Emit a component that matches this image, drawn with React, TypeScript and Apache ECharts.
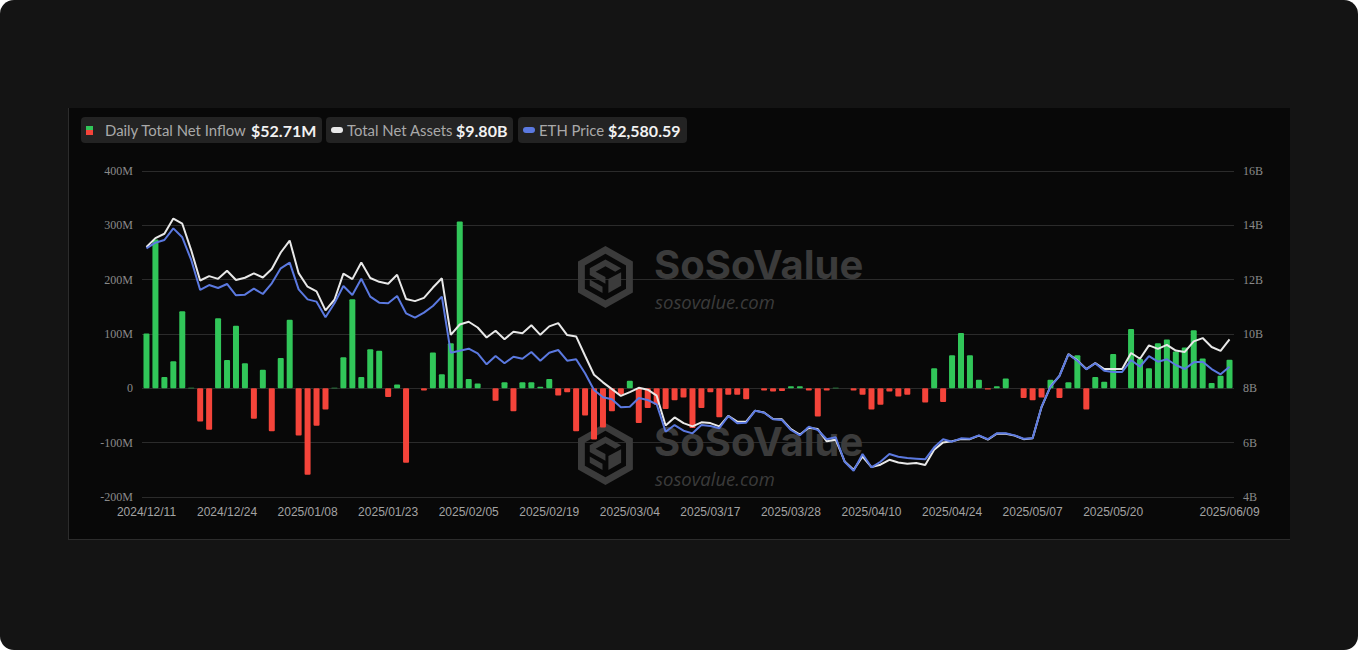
import React, { useEffect, useRef } from "react";
import * as echarts from "echarts";

const dates: string[] = [
  "2024/12/11","2024/12/12","2024/12/13","2024/12/16","2024/12/17","2024/12/18","2024/12/19","2024/12/20","2024/12/23","2024/12/24","2024/12/26","2024/12/27","2024/12/30","2024/12/31",
  "2025/01/02","2025/01/03","2025/01/06","2025/01/07","2025/01/08","2025/01/10","2025/01/13","2025/01/14","2025/01/15","2025/01/16","2025/01/17","2025/01/21","2025/01/22","2025/01/23","2025/01/24","2025/01/27","2025/01/28","2025/01/29","2025/01/30","2025/01/31",
  "2025/02/03","2025/02/04","2025/02/05","2025/02/06","2025/02/07","2025/02/10","2025/02/11","2025/02/12","2025/02/13","2025/02/14","2025/02/18","2025/02/19","2025/02/20","2025/02/21","2025/02/24","2025/02/25","2025/02/26","2025/02/27","2025/02/28",
  "2025/03/03","2025/03/04","2025/03/05","2025/03/06","2025/03/07","2025/03/10","2025/03/11","2025/03/12","2025/03/13","2025/03/14","2025/03/17","2025/03/18","2025/03/19","2025/03/20","2025/03/21","2025/03/24","2025/03/25","2025/03/26","2025/03/27","2025/03/28","2025/03/31",
  "2025/04/01","2025/04/02","2025/04/03","2025/04/04","2025/04/07","2025/04/08","2025/04/09","2025/04/10","2025/04/11","2025/04/14","2025/04/15","2025/04/16","2025/04/17","2025/04/21","2025/04/22","2025/04/23","2025/04/24","2025/04/25","2025/04/28","2025/04/29","2025/04/30",
  "2025/05/01","2025/05/02","2025/05/05","2025/05/06","2025/05/07","2025/05/08","2025/05/09","2025/05/12","2025/05/13","2025/05/14","2025/05/15","2025/05/16","2025/05/19","2025/05/20","2025/05/21","2025/05/22","2025/05/23","2025/05/27","2025/05/28","2025/05/29","2025/05/30",
  "2025/06/02","2025/06/03","2025/06/04","2025/06/05","2025/06/06","2025/06/09",
];

// Daily total net inflow, millions USD
const netInflow: number[] = [
  101, 274, 21, 50, 142, 1, -61, -76, 129, 52, 115, 46, -56, 34,
  -79, 56, 126, -87, -159, -69, -39, 1, 57, 164, 21, 72, 69, -16, 7, -137, 0, -4, 66, 26,
  83, 307, 17, 9, 0, -23, 11, -42, 11, 11, 3, 17, -13, -7, -79, -50, -94, -72, -42,
  -12, 14, -64, -36, -30, -38, -22, -17, -73, -36, -7, -53, -12, -12, -20, 0, -4, -6, -5, 4, 4,
  -4, -52, -4, 1, 0, -4, -12, -39, -30, -6, -15, -12, 0, -26, 37, -25, 61, 102, 61, 16, -2,
  4, 18, 0, -18, -22, -17, 16, -18, 11, 61, -39, 21, 12, 63, 0, 109, 54, 37, 83, 90, 68,
  75, 107, 55, 10, 23, 52.71,
];

// Total net assets, billions USD
const totalNetAssets: number[] = [
  13.2, 13.53, 13.69, 14.25, 14.06, 13.08, 11.97, 12.13, 12.03, 12.33, 11.99, 12.07, 12.23, 12.08,
  12.39, 13.0, 13.44, 12.24, 11.74, 11.57, 10.87, 11.26, 12.22, 12.02, 12.63, 12.06, 11.92, 11.85, 12.18, 11.29, 11.21, 11.33, 11.71, 12.05,
  9.97, 10.35, 10.45, 10.24, 9.87, 10.12, 9.81, 10.08, 10.03, 10.32, 9.97, 10.28, 10.4, 9.96, 9.91, 9.2, 8.5, 8.22, 7.97,
  7.72, 7.86, 8.02, 7.95, 7.73, 6.63, 6.93, 6.72, 6.6, 6.75, 6.72, 6.6, 6.99, 6.78, 6.77, 7.18, 7.11, 6.87, 6.86, 6.5, 6.3,
  6.55, 6.5, 6.05, 6.11, 5.31, 5.0, 5.49, 5.1, 5.19, 5.37, 5.27, 5.22, 5.25, 5.18, 5.74, 6.01, 6.05, 6.13, 6.13, 6.26, 6.11,
  6.33, 6.33, 6.26, 6.13, 6.16, 7.31, 8.07, 8.46, 9.26, 9.03, 8.71, 8.93, 8.71, 8.71, 8.71, 9.3, 9.09, 9.58, 9.45, 9.6, 9.39,
  9.34, 9.73, 9.85, 9.52, 9.38, 9.8,
];

// ETH price, USD
const ethPrice: number[] = [
  3819, 3878, 3906, 4028, 3934, 3697, 3383, 3435, 3404, 3446, 3327, 3334, 3397, 3341,
  3453, 3610, 3669, 3390, 3285, 3261, 3097, 3244, 3425, 3331, 3501, 3313, 3250, 3244, 3320, 3139, 3093, 3146, 3216, 3313,
  2727, 2748, 2769, 2720, 2605, 2692, 2616, 2685, 2664, 2734, 2643, 2727, 2755, 2643, 2658, 2511, 2336, 2260, 2239,
  2155, 2162, 2253, 2232, 2187, 1900, 1970, 1911, 1883, 1970, 1960, 1936, 2064, 1988, 1994, 2120, 2099, 2030, 2023, 1918, 1862,
  1953, 1918, 1821, 1842, 1586, 1492, 1667, 1528, 1586, 1667, 1639, 1625, 1618, 1611, 1737, 1821, 1796, 1831, 1827, 1862, 1821,
  1883, 1883, 1862, 1827, 1831, 2162, 2371, 2483, 2710, 2643, 2553, 2616, 2539, 2525, 2525, 2650, 2580, 2692, 2633, 2658, 2598,
  2556, 2626, 2633, 2556, 2501, 2580.59,
];

const legendNames: string[] = ["Daily Total Net Inflow", "Total Net Assets", "ETH Price"];
const legendValues: string[] = ["$52.71M", "$9.80B", "$2,580.59"];

const GREEN = "#31c659";
const RED = "#f4443a";
const WHITE_LINE = "#e8e8e8";
const BLUE_LINE = "#5b79e0";
const WM = "#3b3b3b";

let registered = false;
function registerLogo() {
  if (registered) return;
  registered = true;
  const d =
    "M28 0 L56 16 L56 48 L28 64 L0 48 L0 16 Z " +
    "M28 8 L7 20 L7 44 L28 56 L49 44 L49 20 Z " +
    "M28 14 L44 23 L38 26.5 L28 21 L18 26.5 L28 32 L28 39 L12 30 L12 23 Z " +
    "M31 34 L44 27 L44 41 L31 48.5 Z " +
    "M25 42 L25 48.5 L12 41 L12 34.5 Z";
  echarts.graphic.registerShape("sosoLogo", (echarts.graphic as any).extendPath(d, {}));
}

function watermark(dy: number) {
  return {
    type: "group",
    z: 1,
    silent: true,
    children: [
      { type: "sosoLogo", x: 578, y: 246 + dy, scaleX: 0.98, scaleY: 0.97, z: 1, style: { fill: WM } },
      {
        type: "text", x: 654, y: 264 + dy, z: 1,
        style: { text: "SoSoValue", fill: WM, fontSize: 40, lineHeight: 32, fontWeight: "bold", fontFamily: "Inter, 'Open Sans', sans-serif", verticalAlign: "middle" },
      },
      {
        type: "text", x: 655, y: 301 + dy, z: 1,
        style: { text: "sosovalue.com", fill: WM, fontSize: 18.5, lineHeight: 16, fontStyle: "italic", fontFamily: "'Open Sans', sans-serif", verticalAlign: "middle" },
      },
    ],
  };
}

function legendItem(x: number, w: number, iconKind: number, nameX: number, valX: number, idx: number) {
  const children: any[] = [
    { type: "rect", shape: { x, y: 117, width: w, height: 26, r: 4 }, style: { fill: "#232323" } },
  ];
  if (iconKind === 0) {
    children.push({ type: "rect", shape: { x: x + 5, y: 126, width: 7, height: 4 }, style: { fill: GREEN } });
    children.push({ type: "rect", shape: { x: x + 5, y: 130, width: 7, height: 5 }, style: { fill: RED } });
  } else {
    children.push({
      type: "rect",
      shape: { x: x + 5, y: 127, width: 12, height: 6, r: 3 },
      style: { fill: iconKind === 1 ? WHITE_LINE : BLUE_LINE },
    });
  }
  children.push({
    type: "text", x: nameX, y: 130,
    style: { text: legendNames[idx], fill: "#a9a9a9", fontSize: 14.9, fontFamily: "Lato, 'Noto Sans', sans-serif", verticalAlign: "middle" },
  });
  children.push({
    type: "text", x: valX, y: 130,
    style: { text: legendValues[idx], fill: "#f2f2f2", fontSize: 16, fontWeight: "bold", fontFamily: "Lato, 'Noto Sans', sans-serif", verticalAlign: "middle" },
  });
  return { type: "group", z: 10, children };
}

export default function App() {
  const ref = useRef<HTMLDivElement>(null);
  useEffect(() => {
    if (!ref.current) return;
    registerLogo();
    const chart = echarts.init(ref.current, null, { renderer: "svg" });
    const last = dates.length - 1;
    chart.setOption({
      animation: false,
      backgroundColor: "transparent",
      grid: { left: 142, right: 124, top: 171, bottom: 153 },
      xAxis: {
        type: "category",
        data: dates,
        boundaryGap: true,
        axisLine: { show: false },
        axisTick: { show: false },
        splitLine: { show: false },
        axisLabel: {
          color: "#a3a3a3",
          fontSize: 12,
          fontFamily: "'Liberation Sans', Arial, sans-serif",
          margin: 9,
          interval: (i: number) => (i % 9 === 0 && i <= 108) || i === last,
        },
      },
      yAxis: [
        {
          type: "value", position: "left", min: -200, max: 400, interval: 100,
          axisLine: { show: false }, axisTick: { show: false },
          splitLine: { lineStyle: { color: "#2b2b2b", width: 1 } },
          axisLabel: {
            formatter: (v: number) => (v === 0 ? "0" : v + "M"),
            color: "#8a8a8a", fontSize: 12, fontFamily: "'Liberation Serif', 'Times New Roman', serif", margin: 9,
          },
        },
        {
          type: "value", position: "right", min: 4, max: 16, interval: 2,
          axisLine: { show: false }, axisTick: { show: false }, splitLine: { show: false },
          axisLabel: {
            formatter: (v: number) => v + "B",
            color: "#8a8a8a", fontSize: 12, fontFamily: "'Liberation Serif', 'Times New Roman', serif", margin: 9,
          },
        },
        { type: "value", min: 1217, max: 4628, show: false, splitLine: { show: false } },
      ],
      series: [
        {
          name: legendNames[0], type: "bar", yAxisIndex: 0, data: netInflow, barWidth: 6, z: 2,
          itemStyle: { color: (p: any) => (p.value >= 0 ? GREEN : RED), borderRadius: 1 },
        },
        {
          name: legendNames[1], type: "line", yAxisIndex: 1, data: totalNetAssets, symbol: "none", z: 3,
          lineStyle: { color: WHITE_LINE, width: 2 },
        },
        {
          name: legendNames[2], type: "line", yAxisIndex: 2, data: ethPrice, symbol: "none", z: 4,
          lineStyle: { color: BLUE_LINE, width: 2 },
        },
      ],
      graphic: [
        watermark(0),
        watermark(177),
        legendItem(81, 241, 0, 105, 251, 0),
        legendItem(326, 187, 1, 347, 456, 1),
        legendItem(518, 169, 2, 539, 608, 2),
      ],
    });
    return () => chart.dispose();
  }, []);

  return (
    <div style={{ position: "absolute", left: 0, top: 0, width: 1358, height: 650, background: "#ffffff" }}>
      <div style={{ position: "absolute", left: 0, top: 0, width: 1358, height: 650, background: "#141414", borderRadius: 14 }} />
      <div
        style={{
          position: "absolute", left: 68, top: 108, width: 1221, height: 431,
          background: "#080808", borderLeft: "1px solid #2c2c2c", borderBottom: "1px solid #2c2c2c",
        }}
      />
      <div ref={ref} style={{ position: "absolute", left: 0, top: 0, width: 1358, height: 650 }} />
    </div>
  );
}
